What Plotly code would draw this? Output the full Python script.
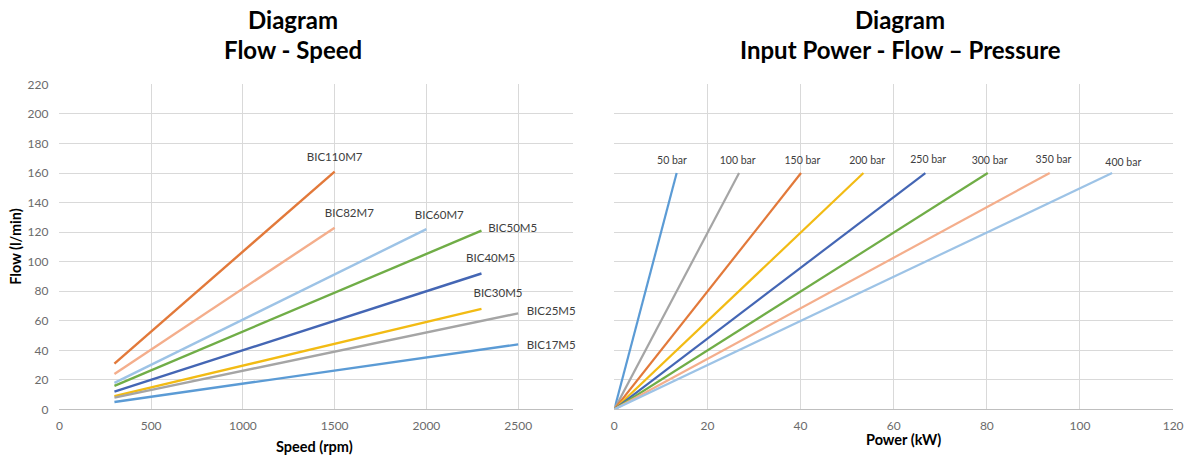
import plotly.graph_objects as go

# ---- Left chart: Flow - Speed ----
models = ["BIC110M7", "BIC82M7", "BIC60M7", "BIC50M5", "BIC40M5", "BIC30M5", "BIC25M5", "BIC17M5"]
speed_start = [300, 300, 300, 300, 300, 300, 300, 300]
speed_end = [1500, 1500, 2000, 2300, 2300, 2300, 2500, 2500]
flow_start = [31, 24, 18, 16, 12, 9, 8, 5]
flow_end = [161, 123, 122, 121, 92, 68, 65, 44]
model_colors = ["#E2793A", "#F4AE8C", "#9DC3E6", "#70AD47", "#4466B4", "#F2BB14", "#A5A5A5", "#5B9BD5"]
label_speed = [1500, 1580, 2070, 2470, 2350, 2390, 2680, 2680]
label_flow = [170, 132, 131, 122, 102, 78, 66, 43]

# ---- Right chart: Input Power - Flow - Pressure ----
pressures = ["50 bar", "100 bar", "150 bar", "200 bar", "250 bar", "300 bar", "350 bar", "400 bar"]
power_end = [13.4, 26.8, 40.1, 53.5, 66.8, 80.2, 93.5, 106.9]
flow_top = [160, 160, 160, 160, 160, 160, 160, 160]
pressure_colors = ["#5B9BD5", "#A5A5A5", "#E2793A", "#F2BB14", "#4466B4", "#70AD47", "#F4AE8C", "#9DC3E6"]
plabel_power = [12.4, 26.5, 40.4, 54.3, 67.4, 80.6, 94.3, 109.3]
plabel_flow = [168, 168, 168, 168, 168.5, 168, 168.5, 166.5]

W, H = 1194, 458
FONT = "Lato"


def px(x):
    return x / W


def py(y):
    return (H - y) / H


fig = go.Figure()

for i, m in enumerate(models):
    fig.add_trace(go.Scatter(x=[speed_start[i], speed_end[i]], y=[flow_start[i], flow_end[i]],
                             mode="lines", line=dict(color=model_colors[i], width=2.4),
                             name=m, xaxis="x", yaxis="y", showlegend=False))
fig.add_trace(go.Scatter(x=label_speed, y=label_flow, mode="text", text=models,
                         textfont=dict(family=FONT, size=11.5, color="#404040"),
                         xaxis="x", yaxis="y", showlegend=False, cliponaxis=False))

for i, p in enumerate(pressures):
    fig.add_trace(go.Scatter(x=[0, power_end[i]], y=[0, flow_top[i]],
                             mode="lines", line=dict(color=pressure_colors[i], width=2.2),
                             name=p, xaxis="x2", yaxis="y2", showlegend=False))
fig.add_trace(go.Scatter(x=plabel_power, y=plabel_flow, mode="text", text=pressures,
                         textfont=dict(family=FONT, size=10.5, color="#404040"),
                         xaxis="x2", yaxis="y2", showlegend=False, cliponaxis=False))

grid = "#D9D9D9"
tickf = dict(family=FONT, size=12, color="#6b6b6b")
ydom = [py(415), py(79)]

fig.update_layout(
    width=W, height=H, margin=dict(l=0, r=0, t=0, b=0),
    paper_bgcolor="white", plot_bgcolor="white",
    xaxis=dict(domain=[px(57), px(576.5)], range=[0, 2800], dtick=500, showgrid=True, gridcolor=grid,
               zeroline=False, showline=True, linecolor="#BFBFBF", linewidth=1, tickfont=tickf,
               ticks="", ticklabelstandoff=5),
    yaxis=dict(domain=ydom, range=[0, 220], dtick=20, showgrid=True, gridcolor=grid,
               zeroline=False, showline=False, tickfont=tickf, ticks="", anchor="x",
               ticklabelstandoff=10),
    xaxis2=dict(domain=[px(618), px(1183)], range=[0, 120], dtick=20, showgrid=True, gridcolor=grid,
                zeroline=False, showline=True, linecolor="#BFBFBF", linewidth=1, tickfont=tickf,
                ticks="", anchor="y2", ticklabelstandoff=5),
    yaxis2=dict(domain=ydom, range=[0, 220], dtick=20, showgrid=True, gridcolor=grid,
                zeroline=False, showline=False, showticklabels=False, ticks="", anchor="x2"),
)

titlef = dict(family=FONT, size=24, color="#000000")
ann = [
    dict(text="<b>Diagram</b>", x=px(293), y=py(12)),
    dict(text="<b>Flow - Speed</b>", x=px(293), y=py(43)),
    dict(text="<b>Diagram</b>", x=px(907), y=py(12)),
    dict(text="<b>Input Power - Flow – Pressure</b>", x=px(907), y=py(43)),
]
for a in ann:
    fig.add_annotation(xref="paper", yref="paper", showarrow=False, font=titlef,
                       xanchor="center", yanchor="middle", **a)

axf = dict(family=FONT, size=14.5, color="#000000")
fig.add_annotation(text="<b>Speed (rpm)</b>", xref="paper", yref="paper", x=px(315), y=py(453),
                   showarrow=False, font=axf, xanchor="center", yanchor="middle")
fig.add_annotation(text="<b>Power (kW)</b>", xref="paper", yref="paper", x=px(910), y=py(446),
                   showarrow=False, font=axf, xanchor="center", yanchor="middle")
fig.add_annotation(text="<b>Flow (l/min)</b>", xref="paper", yref="paper", x=px(13), y=py(247),
                   showarrow=False, font=axf, textangle=-90, xanchor="center", yanchor="middle")

fig.write_html("out.html", config={"displayModeBar": False},
               post_script="document.body.style.margin='0';document.body.style.overflow='hidden';")
